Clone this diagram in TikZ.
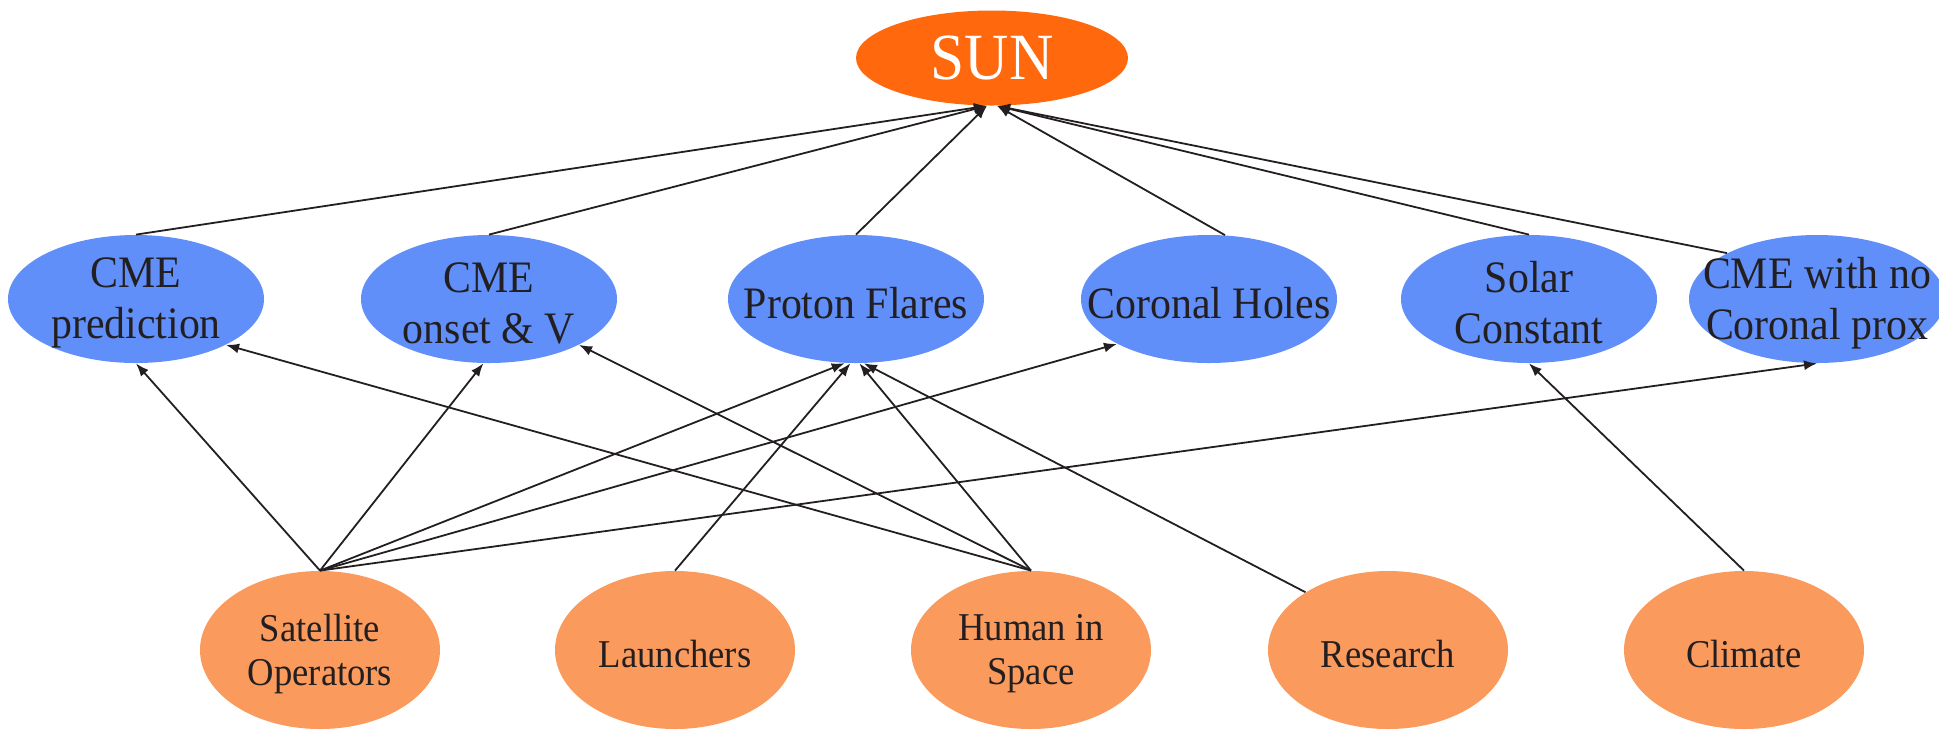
\documentclass[tikz,border=0pt]{standalone}
\usepackage{fontspec}
\setmainfont{Liberation Serif}[FakeStretch=0.93]
\usetikzlibrary{shapes.geometric, arrows.meta}

\definecolor{sunorange}{RGB}{255,104,12}
\definecolor{topicblue}{RGB}{97,143,250}
\definecolor{userorange}{RGB}{250,154,92}
\definecolor{inkgray}{RGB}{35,31,32}

\begin{document}
\begin{tikzpicture}[
    x=0.5pt, y=-0.5pt,
    %% Slnko
    sunell/.style={
        ellipse, fill=sunorange, inner sep=0pt,
        minimum width=136pt, minimum height=47.5pt
    },
    suntxt/.style={text=white, font=\fontsize{33}{36}\selectfont},
    %% Javy (modré)
    topic/.style={
        ellipse, fill=topicblue, inner sep=0pt,
        minimum width=128pt, minimum height=64pt
    },
    topictxt/.style={text=inkgray, align=center, font=\fontsize{22.5}{25.5}\selectfont},
    %% Používatelia (oranžové)
    user/.style={
        ellipse, fill=userorange, inner sep=0pt,
        minimum width=120pt, minimum height=79pt
    },
    usertxt/.style={text=inkgray, align=center, font=\fontsize{19.7}{22}\selectfont},
    %% Šípky
    link/.style={draw=inkgray, line width=0.9pt, -{Latex[length=6.5pt, width=5pt]}}
]
\useasboundingbox (0,0) rectangle (1939,730);

%% ══════════════════════════════════════════════════════════════════
%% Stredy elips
%% ══════════════════════════════════════════════════════════════════
\coordinate (p-sun)      at (992, 58);

\coordinate (p-cmep)     at (136, 299);
\coordinate (p-cmeo)     at (489, 299);
\coordinate (p-pf)       at (856, 299);
\coordinate (p-ch)       at (1209, 299);
\coordinate (p-sc)       at (1529, 299);
\coordinate (p-noprox)   at (1817, 299);

\coordinate (p-sat)      at (320, 650);
\coordinate (p-launch)   at (675, 650);
\coordinate (p-human)    at (1031, 650);
\coordinate (p-research) at (1388, 650);
\coordinate (p-climate)  at (1744, 650);

%% ══════════════════════════════════════════════════════════════════
%% Elipsy
%% ══════════════════════════════════════════════════════════════════
\node[sunell] (sun) at (p-sun) {};
\node[suntxt] (sun-t) at (sun) {SUN};

\foreach \v/\lbl in {cmep/{CME\\prediction}, cmeo/{CME\\onset \& V},
                     pf/{Proton Flares}, ch/{Coronal Holes},
                     sc/{Solar\\Constant}, noprox/{CME with no\\Coronal prox}} {
    \node[topic] (\v) at (p-\v) {};
    \node[topictxt, yshift=-2pt] (\v-t) at (\v) {\lbl};
}

\foreach \v/\lbl in {sat/{Satellite\\Operators}, launch/{Launchers},
                     human/{Human in\\Space}, research/{Research},
                     climate/{Climate}} {
    \node[user] (\v) at (p-\v) {};
    \node[usertxt, yshift=-2pt] (\v-t) at (\v) {\lbl};
}

%% ══════════════════════════════════════════════════════════════════
%% Javy -> SUN
%% ══════════════════════════════════════════════════════════════════
\foreach \src/\dst in {cmep.north/264, cmeo.north/264, pf.north/264,
                       ch.76/276, sc.north/276, noprox.153/276} {
    \draw[link] (\src) -- (sun.\dst);
}

%% ══════════════════════════════════════════════════════════════════
%% Používatelia -> javy
%% ══════════════════════════════════════════════════════════════════
\foreach \src/\dst in {sat.north/cmep.south, sat.north/cmeo.265,
                       sat.north/pf.260, sat.north/ch.206,
                       sat.north/noprox.south,
                       launch.north/pf.265,
                       human.north/cmep.333, human.north/cmeo.333,
                       human.north/pf.273,
                       research.145/pf.277,
                       climate.north/sc.south} {
    \draw[link] (\src) -- (\dst);
}

\end{tikzpicture}
\end{document}
